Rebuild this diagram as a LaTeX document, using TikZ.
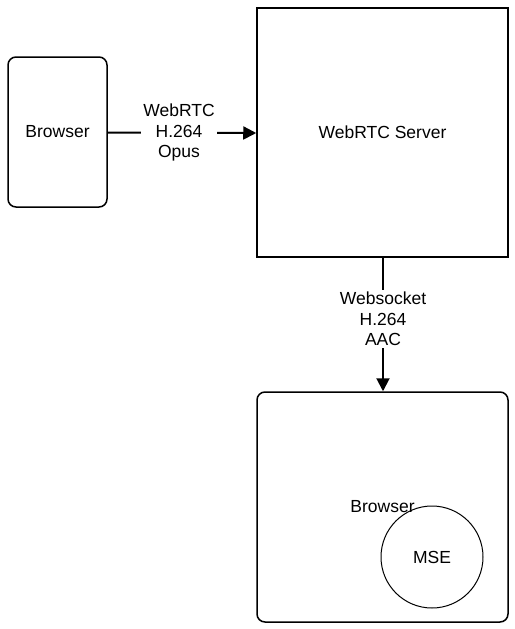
\documentclass[tikz,border=0pt]{standalone}
\usepackage{fontspec}
\setmainfont{Liberation Sans}
\usetikzlibrary{arrows.meta}
\begin{document}
\begin{tikzpicture}[x=1pt, y=-1pt, >={Triangle[length=13pt,width=13pt]},
	box/.style={draw, line width=1.5pt, rectangle, inner sep=0pt},
	link/.style={line width=2pt, ->},
	tag/.style={fill=white, align=center, inner sep=2pt}]
	\useasboundingbox (0,0) rectangle (514,629);
	\fontsize{17.5}{20.5}\selectfont
	
	% Trình duyệt gửi
	\node[box, rounded corners=8pt, minimum width=99pt, minimum height=150pt] (src) at (57.5,132) {Browser};
	% Máy chủ
	\node[box, minimum width=251pt, minimum height=249pt] (srv) at (382.5,132.5) {WebRTC Server};
	% Trình duyệt nhận
	\node[box, rounded corners=8pt, minimum width=251pt, minimum height=230pt] (dst) at (382.5,507) {Browser};
	\node[draw, line width=1pt, circle, minimum size=102pt, inner sep=0pt] (mse) at (432,557) {MSE};
	
	\draw[link] ([yshift=-0.5pt]src.east) -- ([yshift=-0.5pt]srv.west) node[tag, pos=0.48] {WebRTC\\H.264\\Opus};
	\draw[link] ([xshift=0.5pt]srv.south) -- ([xshift=0.5pt]dst.north) node[tag, pos=0.46] {Websocket\\H.264\\AAC};
\end{tikzpicture}
\end{document}
